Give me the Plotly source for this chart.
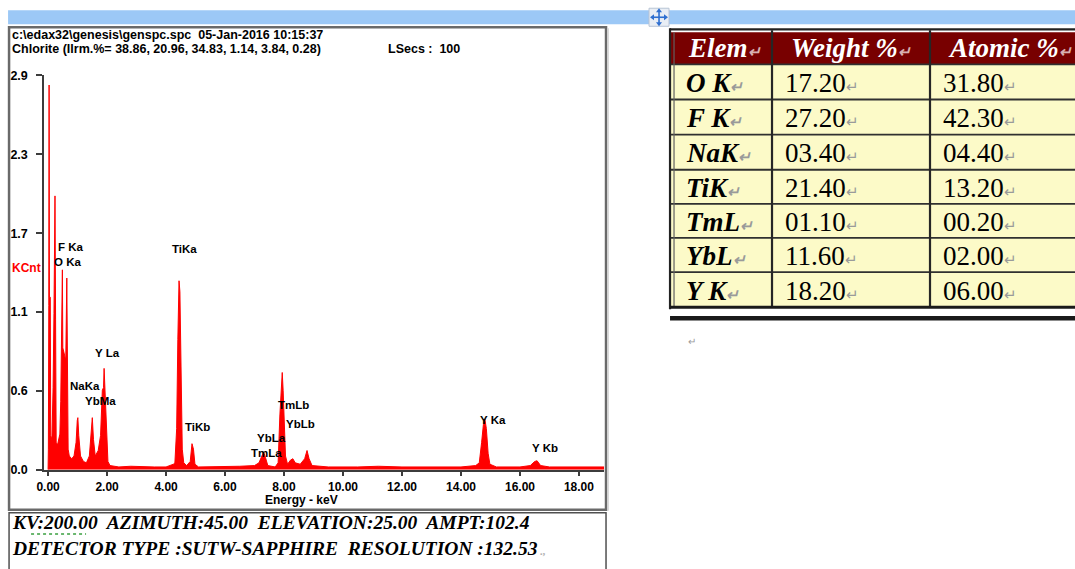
import plotly.graph_objects as go

# ---------------------------------------------------------------- data
# EDS spectrum (energy in keV, intensity in KCnt)
energy_kev = [
    0.00, 0.010, 0.025, 0.035, 0.045, 0.075, 0.090, 0.130, 0.170, 0.200,
    0.235, 0.255, 0.275, 0.320, 0.360, 0.400, 0.430, 0.450, 0.485, 0.500,
    0.550, 0.600, 0.635, 0.655, 0.680, 0.720, 0.800, 0.880, 0.950, 0.990,
    1.010, 1.040, 1.100, 1.200, 1.300, 1.400, 1.460, 1.500, 1.540, 1.600,
    1.700, 1.780, 1.840, 1.880, 1.900, 1.930, 1.980, 2.030, 2.100, 2.400,
    2.800, 3.200, 3.600, 4.000, 4.250, 4.300, 4.360, 4.400, 4.440, 4.470,
    4.500, 4.550, 4.600, 4.700, 4.820, 4.880, 4.930, 4.980, 5.100, 5.500,
    6.000, 6.500, 7.000, 7.150, 7.250, 7.310, 7.370, 7.450, 7.700, 7.800,
    7.860, 7.900, 7.940, 7.970, 8.000, 8.050, 8.120, 8.220, 8.300, 8.380,
    8.550, 8.700, 8.780, 8.850, 8.950, 9.500, 10.50, 11.20, 12.00, 13.00,
    14.00, 14.50, 14.62, 14.70, 14.76, 14.81, 14.86, 14.92, 14.98, 15.20,
    16.00, 16.35, 16.50, 16.58, 16.70, 17.00, 18.00, 18.85,
]
counts_kcnt = [
    0.00, 0.15, 1.20, 2.81, 1.26, 1.26, 0.25, 0.22, 0.60, 1.14,
    2.00, 1.10, 0.20, 0.18, 0.22, 0.26, 0.50, 0.89, 1.46, 0.89,
    0.85, 0.80, 1.40, 0.60, 0.15, 0.10, 0.08, 0.10, 0.20, 0.36,
    0.38, 0.25, 0.10, 0.06, 0.05, 0.10, 0.30, 0.38, 0.22, 0.10,
    0.14, 0.25, 0.58, 0.60, 0.74, 0.60, 0.30, 0.06, 0.03, 0.02,
    0.025, 0.02, 0.02, 0.02, 0.04, 0.05, 0.30, 0.95, 1.38, 1.30,
    0.75, 0.15, 0.05, 0.03, 0.06, 0.19, 0.15, 0.04, 0.02, 0.02,
    0.02, 0.025, 0.03, 0.05, 0.10, 0.13, 0.09, 0.03, 0.02, 0.05,
    0.40, 0.55, 0.71, 0.58, 0.35, 0.10, 0.04, 0.07, 0.08, 0.05,
    0.04, 0.08, 0.14, 0.08, 0.03, 0.02, 0.02, 0.025, 0.02, 0.02,
    0.02, 0.03, 0.05, 0.20, 0.33, 0.37, 0.30, 0.12, 0.04, 0.02,
    0.02, 0.03, 0.06, 0.065, 0.03, 0.02, 0.02, 0.02,
]

x_tick_vals = [0, 2, 4, 6, 8, 10, 12, 14, 16, 18]
x_tick_text = ["0.00", "2.00", "4.00", "6.00", "8.00", "10.00", "12.00",
               "14.00", "16.00", "18.00"]
y_tick_vals = [0.0, 0.576, 1.152, 1.728, 2.304, 2.88]
y_tick_text = ["0.0", "0.6", "1.1", "1.7", "2.3", "2.9"]

# peak identifications (label, energy of label's left edge, height)
peak_names = ["F Ka", "O Ka", "TiKa", "Y La", "NaKa", "YbMa", "TiKb",
              "YbLa", "TmLa", "TmLb", "YbLb", "Y Ka", "Y Kb"]
peak_label_kev = [0.27, 0.14, 4.14, 1.53, 0.68, 1.19, 4.58,
                  7.02, 6.81, 7.73, 8.00, 14.58, 16.34]
peak_label_kcnt = [1.63, 1.52, 1.61, 0.85, 0.61, 0.50, 0.315,
                   0.235, 0.125, 0.476, 0.337, 0.366, 0.161]

# quantification results
elements = ["O K", "F K", "NaK", "TiK", "TmL", "YbL", "Y K"]
weight_pct = [17.20, 27.20, 3.40, 21.40, 1.10, 11.60, 18.20]
atomic_pct = [31.80, 42.30, 4.40, 13.20, 0.20, 2.00, 6.00]
table_header = ["Elem", "Weight %", "Atomic %"]

# ---------------------------------------------------------------- layout helpers
# Positions below are given in window pixels.  The page keeps an 8 px body
# margin and is captured at 1083 x 585 before being fitted to 1075 x 569,
# so window pixels are mapped back onto figure pixels here.
WIN_W, WIN_H = 1075, 569
MARGIN = 8
PAGE_W, PAGE_H = WIN_W + MARGIN, WIN_H + 2 * MARGIN
W, H = WIN_W, WIN_H + MARGIN
SANS = "Liberation Sans"
SERIF = "Liberation Serif"
PARA = "<span style='color:#9a9a9a;font-size:15px'>\u21b5</span>"


def fx(x):
    return (x * PAGE_W / WIN_W - MARGIN) / W


def fy(y):
    return 1 - (y * PAGE_H / WIN_H - MARGIN) / H


def rect(x0, y0, x1, y1, fill=None, line_color=None, line_width=0):
    return dict(type="rect", xref="paper", yref="paper",
                x0=fx(x0), y0=fy(y1), x1=fx(x1), y1=fy(y0),
                fillcolor=fill or "rgba(0,0,0,0)",
                line=dict(color=line_color or "rgba(0,0,0,0)", width=line_width),
                layer="below")


def seg(x0, y0, x1, y1, color, width, dash="solid", layer="above"):
    return dict(type="line", xref="paper", yref="paper",
                x0=fx(x0), y0=fy(y0), x1=fx(x1), y1=fy(y1),
                line=dict(color=color, width=width, dash=dash), layer=layer)


def text(t, x, y, size, color="black", family=SANS, weight="bold",
         style="normal", xanchor="left", yanchor="middle"):
    return dict(text=t, x=fx(x), y=fy(y), xref="paper", yref="paper",
                showarrow=False, xanchor=xanchor, yanchor=yanchor,
                font=dict(family=family, size=size, color=color,
                          weight=weight, style=style))


fig = go.Figure()

fig.add_trace(go.Scatter(
    x=energy_kev, y=counts_kcnt, mode="lines",
    line=dict(color="#ff0000", width=1),
    fill="tozeroy", fillcolor="#ff0000",
    hoverinfo="skip", showlegend=False,
))

shapes = []
annotations = []

# window bar and move handle
shapes.append(rect(8, 11, 1080, 25, fill="#9cc8f6"))
shapes.append(rect(649, 9, 669, 27, fill="#e9eef5", line_color="#b8c4d4", line_width=1))
shapes.append(seg(652, 18, 666, 18, "#2f6fd0", 1.6))
shapes.append(seg(659, 11, 659, 25, "#2f6fd0", 1.6))
for (px_, py_, dx, dy) in [(652, 18, -1, 0), (666, 18, 1, 0), (659, 11, 0, -1), (659, 25, 0, 1)]:
    if dx:
        path = (f"M {fx(px_ + dx * 2)} {fy(py_)} L {fx(px_ - dx * 2)} {fy(py_ - 3)} "
                f"L {fx(px_ - dx * 2)} {fy(py_ + 3)} Z")
    else:
        path = (f"M {fx(px_)} {fy(py_ + dy * 2)} L {fx(px_ - 3)} {fy(py_ - dy * 2)} "
                f"L {fx(px_ + 3)} {fy(py_ - dy * 2)} Z")
    shapes.append(dict(type="path", xref="paper", yref="paper", path=path,
                       fillcolor="#2f6fd0", line=dict(width=0)))

# spectrum frame and the conditions box beneath it
shapes.append(rect(9, 28, 606, 509, line_color="#6a6a6a", line_width=2.5))
shapes.append(seg(608, 29, 608, 510, "#d0d0d0", 1.5))
shapes.append(rect(9, 512, 606, 600, line_color="#505050", line_width=1.5))

# header lines of the spectrum
annotations.append(text("c:\\edax32\\genesis\\genspc.spc  05-Jan-2016 10:15:37", 10, 36, 12.5))
annotations.append(text("Chlorite (Ilrm.%= 38.86, 20.96, 34.83, 1.14, 3.84, 0.28)", 10, 50, 12.5))
annotations.append(text("LSecs :  100", 386, 50, 12.5))
annotations.append(text("KCnt", 10, 268, 12, color="#ff0000"))
annotations.append(text("Energy - keV", 301, 499, 12, xanchor="center"))

# peak labels, positioned on the spectrum's own axes
for name, ex, ey in zip(peak_names, peak_label_kev, peak_label_kcnt):
    annotations.append(dict(text=name, x=ex, y=ey, xref="x", yref="y",
                            showarrow=False, xanchor="left", yanchor="middle",
                            font=dict(family=SANS, size=11.5, color="black",
                                      weight="bold")))

# acquisition conditions
annotations.append(text("KV:200.00  AZIMUTH:45.00  ELEVATION:25.00  AMPT:102.4",
                        10, 522, 19.5, family=SERIF, style="italic"))
annotations.append(text("DETECTOR TYPE :SUTW-SAPPHIRE  RESOLUTION :132.53"
                        + "<span style='color:#b0b0b0;font-size:11px'> .,</span>",
                        10, 548, 19.5, family=SERIF, style="italic"))
shapes.append(seg(31, 533, 86, 533, "#3aa040", 1.5, dash="dot"))

# ---------------------------------------------------------------- results table
col_x = [671, 772, 930, 1080]
row_y = [33, 65, 100, 135, 170, 204, 238, 272, 307]
shapes.append(rect(671, 33, 1080, 65, fill="#780000"))
shapes.append(rect(671, 65, 1080, 307, fill="#fcfac8"))
for yv in row_y[1:-1]:
    shapes.append(seg(671, yv, 1080, yv, "#303030", 1.8))
for xv in col_x[1:-1]:
    shapes.append(seg(xv, 31, xv, 307, "#262626", 2.2))
shapes.append(seg(670, 29, 670, 309, "#222222", 2.2))
shapes.append(seg(674, 33, 674, 306, "#606060", 1.2))
shapes.append(seg(670, 30, 1080, 30, "#222222", 2.2))
shapes.append(seg(670, 307, 1080, 307, "#1a1a1a", 3))
shapes.append(seg(670, 318, 1080, 318, "#1a1a1a", 4.5))

head_x = [686, 789, 946]
for hx, h in zip(head_x, table_header):
    annotations.append(text(h + PARA.replace("#9a9a9a", "#d8b0b0"), hx, 49, 27,
                            color="white", family=SERIF, style="italic"))

for i, (el, wt, at) in enumerate(zip(elements, weight_pct, atomic_pct)):
    yc = (row_y[i + 1] + row_y[i + 2]) / 2 + 1
    annotations.append(text(el + PARA, 684, yc, 27, family=SERIF, style="italic"))
    annotations.append(text(f"{wt:05.2f}" + PARA, 783, yc, 27, family=SERIF,
                            weight="normal"))
    annotations.append(text(f"{at:05.2f}" + PARA, 941, yc, 27, family=SERIF,
                            weight="normal"))

annotations.append(text("\u21b5", 686, 341, 10, color="#9a9a9a", weight="normal"))

fig.update_layout(
    width=W, height=H,
    margin=dict(l=0, r=0, t=0, b=0),
    paper_bgcolor="white", plot_bgcolor="white",
    shapes=shapes, annotations=annotations,
    xaxis=dict(
        domain=[fx(44), fx(604)], range=[-0.136, 18.85],
        showgrid=False, zeroline=False,
        showline=True, linecolor="#3c3c3c", linewidth=1.5,
        ticks="outside", ticklen=5, tickwidth=1.5, tickcolor="#3c3c3c",
        tickvals=x_tick_vals, ticktext=x_tick_text,
        tickfont=dict(family=SANS, size=12, color="black", weight="bold"),
        fixedrange=True,
    ),
    yaxis=dict(
        domain=[fy(469), fy(76)], range=[0, 2.88],
        showgrid=False, zeroline=False,
        showline=True, linecolor="#3c3c3c", linewidth=1.5,
        ticks="outside", ticklen=6, tickwidth=1.5, tickcolor="#3c3c3c",
        tickvals=y_tick_vals, ticktext=y_tick_text,
        ticklabelstandoff=6,
        tickfont=dict(family=SANS, size=12.5, color="black", weight="bold"),
        fixedrange=True,
    ),
)

fig.write_html("out.html", config={"displayModeBar": False})
